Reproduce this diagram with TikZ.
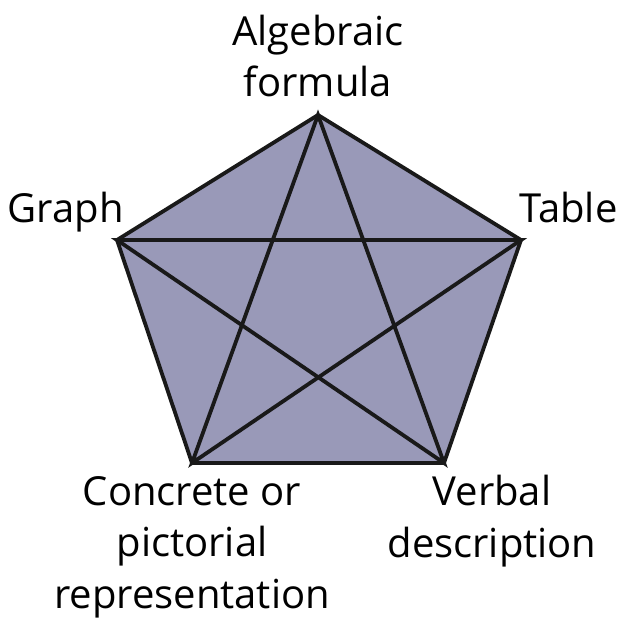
\documentclass[tikz,border=0pt]{standalone}
\usepackage{fontspec}
\setmainfont{Open Sans}
\usepackage{tikz}

\definecolor{pentfill}{RGB}{153,153,184}
\tikzset{
  lbl/.style={align=center,inner sep=0pt,anchor=base,font=\fontsize{40}{51.5}\selectfont},
  edge/.style={line width=3.8pt,line join=miter,black!90}
}

\begin{document}
\begin{tikzpicture}[x=1pt,y=-1pt]
\useasboundingbox (0,0) rectangle (622,623);
% corners of the pentagon
\coordinate (alg) at (318,115);
\coordinate (gra) at (117,240);
\coordinate (tab) at (521,240);
\coordinate (con) at (192,463);
\coordinate (ver) at (444,463);
\fill[pentfill] (alg) -- (tab) -- (ver) -- (con) -- (gra) -- cycle;
\draw[edge] (alg) -- (tab) -- (ver) -- (con) -- (gra) -- cycle;
\draw[edge] (alg) -- (con) -- (tab) -- (gra) -- (ver) -- cycle;
% labels (base = last line)
\node[lbl] (algl) at (318,97) {Algebraic\\formula};
\node[lbl,anchor=base east] (gral) at (124,222) {Graph};
\node[lbl,anchor=base west] (tabl) at (519,222) {Table};
\node[lbl] (conl) at (192,608) {Concrete or\\pictorial\\representation};
\node[lbl] (verl) at (492,557) {Verbal\\description};
\end{tikzpicture}
\end{document}
